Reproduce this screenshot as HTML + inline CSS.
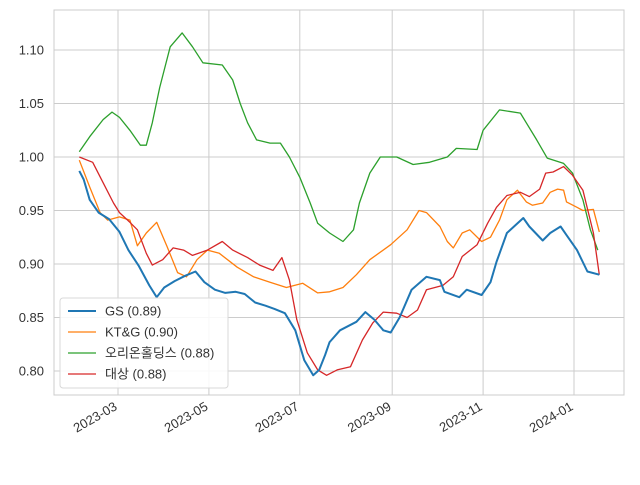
<!DOCTYPE html>
<html><head><meta charset="utf-8"><style>
body{margin:0;background:#fff;}
svg text{font-family:"Liberation Sans","Noto Sans CJK KR",sans-serif;fill:#333;}
</style></head><body>
<svg id="chart" width="640" height="480" xmlns="http://www.w3.org/2000/svg"></svg>
<script>
const yTicks=[0.80,0.85,0.90,0.95,1.00,1.05,1.10];
const xTickLabels=["2023-03","2023-05","2023-07","2023-09","2023-11","2024-01"];
const xTickDays=[59,120,181,243,304,365];
const seriesNames=["GS (0.89)","KT&G (0.90)","오리온홀딩스 (0.88)","대상 (0.88)"];
const gsDays=[33,36,40,46,53,60,66,73,80,85,90,97,104,111,117,124,131,138,144,151,158,164,171,178,184,190,194,198,201,208,219,225,231,237,242,248,256,266,275,278,288,293,303,309,313,320,331,335,344,349,356,360,367,374,382];
const gsVals=[.987,.979,.960,.948,.942,.930,.913,.898,.880,.869,.878,.884,.889,.893,.883,.876,.873,.874,.872,.864,.861,.858,.854,.838,.810,.796,.801,.815,.827,.838,.846,.855,.848,.838,.836,.850,.876,.888,.885,.874,.869,.876,.871,.883,.902,.929,.943,.935,.922,.929,.935,.927,.913,.893,.890];
const ktgDays=[33,40,47,52,60,67,72,78,85,92,99,105,112,119,127,139,150,161,172,183,193,201,210,219,228,242,253,261,266,275,280,284,290,295,303,309,315,320,327,333,337,344,349,354,358,360,367,371,378,382];
const ktgVals=[.997,.972,.948,.941,.944,.941,.917,.929,.939,.916,.892,.888,.904,.913,.910,.897,.888,.883,.878,.882,.873,.874,.878,.890,.904,.918,.932,.950,.948,.935,.921,.915,.929,.932,.921,.925,.941,.960,.969,.958,.955,.957,.967,.970,.969,.958,.953,.950,.951,.930];
const orionDays=[33,40,49,55,60,67,74,78,82,87,94,102,109,116,129,136,141,146,152,161,168,174,181,188,193,201,210,217,221,228,235,246,257,268,280,286,300,304,315,329,333,340,347,358,364,371,376,381];
const orionVals=[1.005,1.019,1.035,1.042,1.037,1.025,1.011,1.011,1.032,1.065,1.103,1.116,1.103,1.088,1.086,1.072,1.050,1.032,1.016,1.013,1.013,1.000,.981,.957,.938,.929,.921,.932,.957,.985,1.000,1.000,.993,.995,1.000,1.008,1.007,1.025,1.044,1.041,1.032,1.016,.999,.994,.985,.960,.932,.913];
const daesangDays=[33,42,49,56,60,67,72,78,82,89,96,103,109,119,129,136,146,154,163,169,174,179,186,193,199,206,215,223,230,237,246,253,260,266,277,284,290,300,307,313,320,329,335,342,346,351,358,364,371,378,382];
const daesangVals=[1.000,.995,.976,.957,.948,.939,.932,.910,.899,.904,.915,.913,.908,.913,.921,.913,.906,.899,.894,.906,.885,.848,.817,.801,.796,.801,.804,.829,.845,.855,.854,.850,.857,.876,.880,.888,.907,.918,.938,.953,.964,.967,.963,.970,.985,.986,.991,.983,.969,.929,.890];

const L=54,R=624,T=10,B=395;
const xs=d=>118+(d-59)*(456/306);
const ys=v=>157-(v-1)*1070;
const svg=document.getElementById('chart');
const NS="http://www.w3.org/2000/svg";
function mk(tag,attrs,parent){const e=document.createElementNS(NS,tag);for(const k in attrs)e.setAttribute(k,attrs[k]);(parent||svg).appendChild(e);return e;}

const grid=mk('g',{});


yTicks.forEach(v=>{
  const l=mk('line',{x1:L,x2:R,y1:ys(v),y2:ys(v),stroke:'#cccccc','stroke-width':1},grid);
  
  
  const t=mk('text',{x:L-10,y:ys(v)+4.5,'text-anchor':'end','font-size':13});
  
  
  t.textContent=v.toFixed(2);
});
xTickDays.forEach((d,i)=>{
  const x=xs(d);
  const l=mk('line',{x1:x,x2:x,y1:T,y2:B,stroke:'#cccccc','stroke-width':1},grid);
  
  
  const t=mk('text',{x:x,y:B+14,'text-anchor':'end','font-size':13,transform:`rotate(-30 ${x} ${B+14})`});
  
  
  t.textContent=xTickLabels[i];
});
const frame=mk('rect',{x:L,y:T,width:R-L,height:B-T,fill:'none',stroke:'#cccccc','stroke-width':1});



const colors=['#1f77b4','#ff7f0e','#2ca02c','#d62728'];
const widths=[2,1.3,1.3,1.3];
const allDays=[gsDays,ktgDays,orionDays,daesangDays];
const allVals=[gsVals,ktgVals,orionVals,daesangVals];
const lineNames=['line-gs','line-ktg','line-orion-holdings','line-daesang'];
[1,2,3,0].forEach(i=>{
  const pts=allDays[i].map((d,j)=>xs(d).toFixed(1)+','+ys(allVals[i][j]).toFixed(1)).join(' ');
  const p=mk('polyline',{points:pts,fill:'none',stroke:colors[i],'stroke-width':widths[i],'stroke-linejoin':'round'});
  
  
});

const lg=mk('g',{});


mk('rect',{x:60,y:298,width:168,height:90,rx:3,fill:'#fff','fill-opacity':0.85,stroke:'#d8d8d8'},lg);
seriesNames.forEach((n,i)=>{
  const y=311+i*21;
  const l=mk('line',{x1:68,x2:96,y1:y,y2:y,stroke:colors[i],'stroke-width':widths[i]},lg);
  
  
  const t=mk('text',{x:105,y:y+4.5,'font-size':13},lg);
  
  
  t.textContent=n;
});
</script>
</body></html>
